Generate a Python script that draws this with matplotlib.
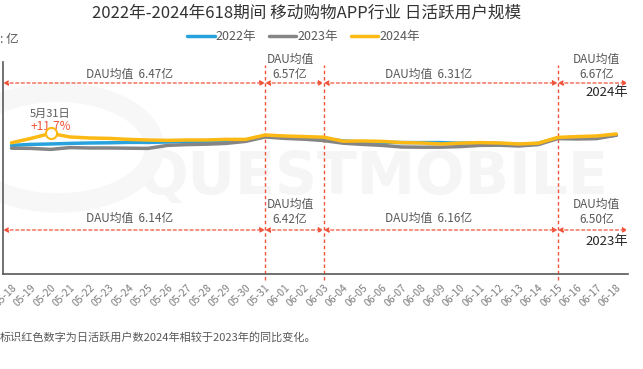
import matplotlib
matplotlib.use("Agg")
import matplotlib.pyplot as plt
from matplotlib.patches import Circle

plt.rcParams["font.family"] = ["Noto Sans CJK SC", "DejaVu Sans"]

# ---- data (亿) ----
dates = ["05-18", "05-19", "05-20", "05-21", "05-22", "05-23", "05-24", "05-25",
         "05-26", "05-27", "05-28", "05-29", "05-30", "05-31", "06-01", "06-02",
         "06-03", "06-04", "06-05", "06-06", "06-07", "06-08", "06-09", "06-10",
         "06-11", "06-12", "06-13", "06-14", "06-15", "06-16", "06-17", "06-18"]
dau_2022 = [6.18, 6.23, 6.25, 6.28, 6.30, 6.31, 6.33, 6.33, 6.35, 6.38, 6.39, 6.40,
            6.42, 6.65, 6.60, 6.55, 6.53, 6.40, 6.35, 6.34, 6.32, 6.32, 6.32, 6.29,
            6.30, 6.28, 6.23, 6.28, 6.55, 6.58, 6.60, 6.69]
dau_2023 = [6.04, 6.03, 5.98, 6.07, 6.05, 6.05, 6.04, 6.03, 6.18, 6.22, 6.24, 6.28,
            6.38, 6.60, 6.53, 6.49, 6.42, 6.29, 6.23, 6.18, 6.10, 6.09, 6.09, 6.12,
            6.18, 6.19, 6.15, 6.22, 6.52, 6.50, 6.52, 6.69]
dau_2024 = [6.31, 6.53, 6.78, 6.60, 6.55, 6.53, 6.48, 6.45, 6.43, 6.45, 6.45, 6.48,
            6.48, 6.70, 6.65, 6.62, 6.59, 6.39, 6.40, 6.38, 6.32, 6.30, 6.25, 6.29,
            6.32, 6.30, 6.25, 6.29, 6.58, 6.62, 6.65, 6.75]

# period boundaries (index into dates) and average labels
bounds = [13, 16, 28]
avg_2024 = ["6.47", "6.57", "6.31", "6.67"]
avg_2023 = ["6.14", "6.42", "6.16", "6.50"]
peak_idx = 2
peak_label = "+11.7%"

C22, C23, C24 = "#27a2dd", "#858585", "#fcb813"
RED = "#f0533a"
TXT = "#595959"

fig = plt.figure(figsize=(6.43, 3.69), dpi=100)
ax = fig.add_axes([0.0047, 0.2575, 0.9723, 0.5745])

x = list(range(len(dates)))
xl, xr = -0.435, 31.61
ax.set_xlim(xl, xr)
ax.set_ylim(-0.25, 10.35)

# faint watermark behind everything
ax.text(0.215, 0.52, "QUESTMOBILE", transform=fig.transFigure, fontsize=42,
        color="#f5f5f5", fontweight="bold", family="DejaVu Sans", va="center",
        zorder=0.1, clip_on=False)
ax.add_patch(Circle((0.09, 0.6), 0.15, transform=fig.transFigure, fill=False,
                    lw=14, ec="#f7f7f7", zorder=0.1, clip_on=False))

for y, c, lab in [(dau_2022, C22, "2022年"), (dau_2023, C23, "2023年"),
                  (dau_2024, C24, "2024年")]:
    ax.plot(x, y, color=c, lw=2.5, label=lab, solid_joinstyle="round",
            solid_capstyle="round", zorder=3)

ax.plot([peak_idx], [dau_2024[peak_idx]], "o", ms=8, mfc="white", mec=C24,
        mew=1.5, zorder=4)
ax.text(peak_idx, 7.75, "5月31日", ha="center", va="center", fontsize=8, color=TXT)
ax.text(peak_idx, 7.1, peak_label, ha="center", va="center", fontsize=8.5, color=RED)

# vertical dashed lines
for b in bounds:
    ax.plot([b, b], [-0.55, 10.2], ls=(0, (2.5, 2)), color=RED, lw=1,
            clip_on=False, zorder=2)

# period arrows + labels
edges = [xl, *bounds, xr - 0.02]
text_x = [6.05, 14.27, 21.4, 30.0]
rows = [(avg_2024, 9.3, 9.75, 10.1, "2024年", 8.8),
        (avg_2023, 1.95, 2.55, 2.85, "2023年", 1.35)]
for avgs, ya, y1, y2, yr_lab, yl in rows:
    for i in range(4):
        ax.annotate("", xy=(edges[i + 1], ya), xytext=(edges[i], ya),
                    arrowprops=dict(arrowstyle="<|-|>", color=RED, lw=0.9,
                                    ls=(0, (2.5, 2)), mutation_scale=7,
                                    shrinkA=0, shrinkB=0),
                    annotation_clip=False)
        if i in (0, 2):
            ax.text(text_x[i], y1, f"DAU均值  {avgs[i]}亿", ha="center",
                    va="center", fontsize=8.5, color=TXT)
        else:
            ax.text(text_x[i], y2, f"DAU均值\n{avgs[i]}亿", ha="center",
                    va="center", fontsize=8.5, color=TXT, linespacing=1.25)
    ax.text(xr, yl, yr_lab, ha="right", va="center", fontsize=9.5,
            color="#262626")

for s in ["top", "right"]:
    ax.spines[s].set_visible(False)
for s in ["left", "bottom"]:
    ax.spines[s].set_color("#595959")
    ax.spines[s].set_linewidth(1.2)
ax.set_yticks([])
ax.set_xticks(x)
ax.set_xticklabels(dates, rotation=45, ha="right", rotation_mode="anchor",
                   fontsize=7.5, color="#7f7f7f")
ax.tick_params(axis="x", length=0, pad=6)

fig.text(0.476, 0.965, "2022年-2024年618期间 移动购物APP行业 日活跃用户规模",
         ha="center", va="center", fontsize=12, color="#333333")
fig.text(0.0, 0.893, ": 亿", ha="left", va="center", fontsize=9, color=TXT)
ax.legend(loc="center", bbox_to_anchor=(0.472, 0.9), bbox_transform=fig.transFigure,
          ncol=3, frameon=False, fontsize=9, handlelength=2.2, handletextpad=0.1,
          columnspacing=1.0, labelcolor=TXT)
fig.text(0.0, 0.085, "标识红色数字为日活跃用户数2024年相较于2023年的同比变化。",
         ha="left", va="center", fontsize=8, color=TXT)

fig.savefig("out.png", dpi=100)
